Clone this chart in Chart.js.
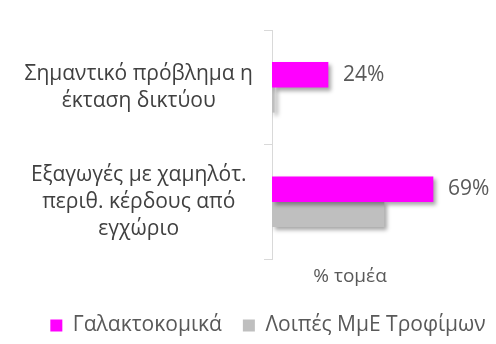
<!DOCTYPE html>
<html>
<head>
<meta charset="utf-8">
<script src="https://cdn.jsdelivr.net/npm/chart.js@4"></script>
<style>
  html, body { margin: 0; padding: 0; background: #fff; }
  #wrap { width: 496px; height: 344px; position: relative; }
</style>
</head>
<body>
<div id="wrap"><canvas id="sector-chart"></canvas></div>
<script>
const categories = [
    ['Σημαντικό πρόβλημα η', 'έκταση δικτύου'],
    ['Εξαγωγές με χαμηλότ.', 'περιθ. κέρδους από', 'εγχώριο']
];
const seriesNames = ['Γαλακτοκομικά', 'Λοιπές ΜμΕ Τροφίμων'];
const dairyValues = [24, 69];
const otherValues = [1, 48];
const axisTitle = '% τομέα';

const FONT = '"Open Sans", sans-serif';

// soft drop shadow under the bars, like the office chart
const barShadow = {
    id: 'barShadow',
    beforeDatasetsDraw(chart) {
        const ctx = chart.ctx;
        ctx.save();
        ctx.shadowColor = 'rgba(0,0,0,0.35)';
        ctx.shadowBlur = 4;
        ctx.shadowOffsetX = 3;
        ctx.shadowOffsetY = 3;
    },
    afterDatasetsDraw(chart) {
        chart.ctx.restore();
    }
};

// value labels for the first series + the axis title
const valueLabels = {
    id: 'valueLabels',
    afterDraw(chart) {
        const ctx = chart.ctx;
        ctx.save();
        ctx.font = '21px ' + FONT;
        ctx.fillStyle = '#595959';
        ctx.textAlign = 'left';
        ctx.textBaseline = 'middle';
        chart.getDatasetMeta(0).data.forEach((bar, i) => {
            ctx.fillText(dairyValues[i] + '%', bar.x + 15, bar.y);
        });
        const area = chart.chartArea;
        ctx.textAlign = 'center';
        ctx.font = '19px ' + FONT;
        ctx.fillText(axisTitle, area.left + 78, area.bottom + 18);
        ctx.restore();
    }
};

// the office legend sits a bit right of centre
const legendShift = {
    id: 'legendShift',
    afterLayout(chart) {
        chart.legend.left += 27;
        chart.legend.right += 27;
        chart.legend.top += 2;
        chart.legend.bottom += 2;
    }
};

document.addEventListener('DOMContentLoaded', () => {
    new Chart(document.getElementById('sector-chart'), {
        type: 'bar',
        data: {
            labels: categories,
            datasets: [
                {label: seriesNames[0], data: dairyValues, backgroundColor: '#ff00ff', barThickness: 25},
                {label: seriesNames[1], data: otherValues, backgroundColor: '#bfbfbf', barThickness: 25}
            ]
        },
        options: {
            indexAxis: 'y',
            responsive: true,
            maintainAspectRatio: false,
            animation: false,
            layout: {padding: {top: 30, right: 0, left: 0, bottom: 0}},
            scales: {
                x: {
                    min: 0, max: 96,
                    afterFit(scale) { scale.height = 47; },
                    ticks: {display: false},
                    grid: {display: false},
                    border: {display: false}
                },
                y: {
                    afterFit(scale) {
                        scale.width = 272;
                        scale.paddingTop = 0;
                        scale.paddingBottom = 0;
                    },
                    border: {display: true, color: '#d9d9d9'},
                    grid: {display: true, drawOnChartArea: false, tickLength: 8, color: '#d9d9d9', offset: true},
                    ticks: {crossAlign: 'center', padding: 11, color: '#404040', font: {family: FONT, size: 21, lineHeight: 1.29}}
                }
            },
            plugins: {
                legend: {
                    position: 'bottom',
                    labels: {
                        boxWidth: 12, boxHeight: 12, padding: 7,
                        color: '#595959', font: {family: FONT, size: 21},
                        generateLabels(chart) {
                            return Chart.defaults.plugins.legend.labels.generateLabels(chart).map(item => {
                                item.text = item.text + '\u2002\u2009';
                                return item;
                            });
                        }
                    }
                },
                tooltip: {enabled: false}
            }
        },
        plugins: [barShadow, valueLabels, legendShift]
    });
});
</script>
</body>
</html>
